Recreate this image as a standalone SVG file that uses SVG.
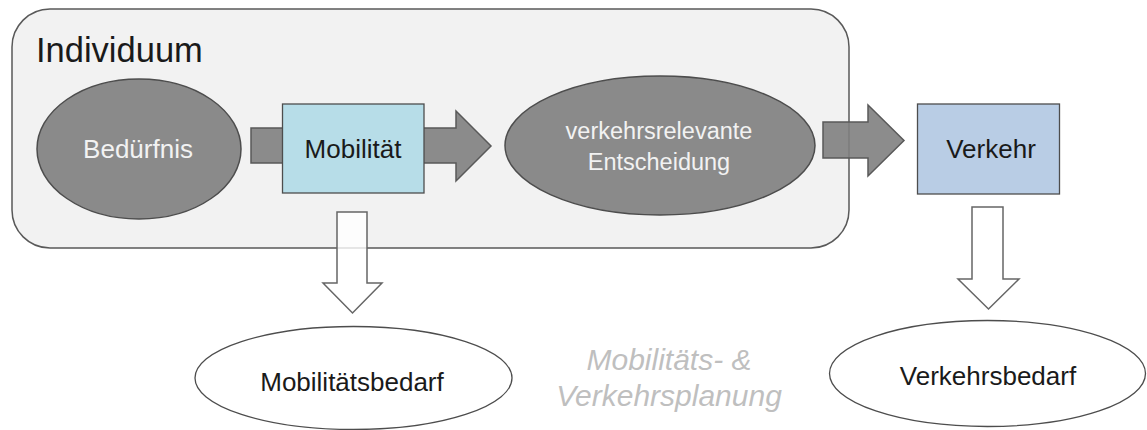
<svg xmlns="http://www.w3.org/2000/svg" width="1147" height="430" viewBox="0 0 1147 430">
<style>
text{font-family:"Liberation Sans",Arial,sans-serif;text-anchor:middle}
.dark{fill:#8a8a8a;stroke:#4d4d4d;stroke-width:1.5}
.garrow{fill:#808080;fill-opacity:0.9;stroke:#595959;stroke-width:1.5}
.warrow{fill:#ffffff;fill-opacity:0.8;stroke:#666666;stroke-width:1.5}
.white{fill:#ffffff;stroke:#4d4d4d;stroke-width:1.3}
.wt{fill:#f2f2f2;font-size:24px}
.bt{fill:#1a1a1a;font-size:26px}
</style>
<g id="individuum">
<rect x="12" y="9" width="837" height="239" rx="38" ry="38" fill="#f2f2f2" stroke="#595959" stroke-width="1.5"/>
<text x="36" y="62" style="text-anchor:start;font-size:34.5px" fill="#1a1a1a">Individuum</text>
</g>
<g id="beduerfnis">
<ellipse class="dark" cx="139" cy="149" rx="102" ry="70"/>
<text class="wt" x="138" y="158" style="font-size:26px">Bedürfnis</text>
</g>
<g id="entscheidung">
<ellipse class="dark" cx="660" cy="145.5" rx="155" ry="69.5"/>
<text class="wt" x="659" y="139" style="font-size:23.5px">verkehrsrelevante</text>
<text class="wt" x="659" y="170" style="font-size:23.5px">Entscheidung</text>
</g>
<g id="connectors">
<path class="garrow" d="M251,128 H456 V111 L491,146 L456,181 V163 H251 Z"/>
<path class="garrow" d="M823,122 H868 V105 L904,140.5 L868,176 V158 H823 Z"/>
<path class="warrow" d="M337,212 H367 V283 H382 L352.5,313 L323,283 H337 Z"/>
<path class="warrow" d="M972,207 H1003 V279 H1019 L988.5,309 L958,279 H972 Z"/>
</g>
<g id="mobilitaet">
<rect x="282.5" y="104" width="141.5" height="89" fill="#b7dde8" stroke="#4d4d4d" stroke-width="1.3"/>
<text class="bt" x="353" y="158">Mobilität</text>
</g>
<g id="verkehr">
<rect x="917.5" y="104" width="142" height="90" fill="#b9cde5" stroke="#4d4d4d" stroke-width="1.3"/>
<text class="bt" x="991" y="158">Verkehr</text>
</g>
<g id="mobilitaetsbedarf">
<ellipse class="white" cx="353.5" cy="378" rx="158.5" ry="51.5"/>
<text class="bt" x="352" y="391">Mobilitätsbedarf</text>
</g>
<g id="verkehrsbedarf">
<ellipse class="white" cx="987.5" cy="373.5" rx="158" ry="53"/>
<text class="bt" x="988" y="385">Verkehrsbedarf</text>
</g>
<g id="planung">
<text x="669" y="370" fill="#bfbfbf" style="font-size:30px;font-style:italic">Mobilitäts- &amp;</text>
<text x="669" y="406" fill="#bfbfbf" style="font-size:30px;font-style:italic">Verkehrsplanung</text>
</g>
</svg>
